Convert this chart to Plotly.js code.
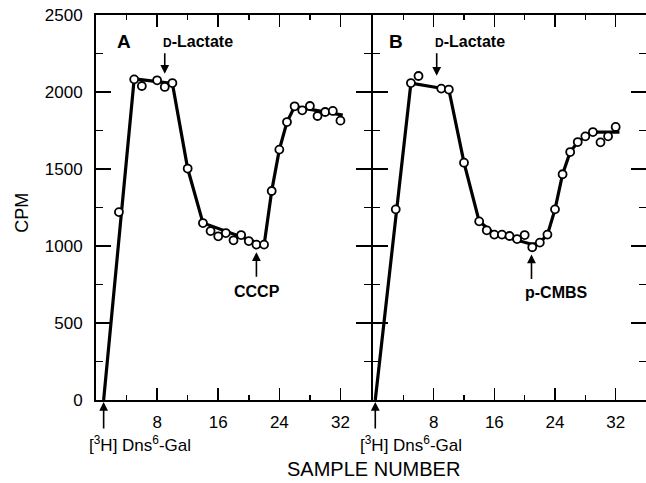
<!DOCTYPE html>
<html><head><meta charset="utf-8">
<script src="https://cdn.plot.ly/plotly-3.0.1.min.js"></script>
<style>html,body{margin:0;padding:0;background:#fff}</style>
</head><body>
<div id="chart" style="width:646px;height:483px"></div>
<script>
// Panel A (CCCP)
const sampleA = [3,5,6,8,9,10,12,14,15,16,17,18,19,20,21,22,23,24,25,26,27,28,29,30,31,32];
const cpmA = [1220,2082,2039,2076,2033,2058,1503,1149,1097,1063,1084,1037,1071,1032,1009,1009,1357,1626,1805,1907,1881,1909,1844,1870,1877,1814];
const fitSampleA = [1,5,10,12,14,22,23,24,25,26,32.3];
const fitCpmA = [0,2085,2055,1503,1150,1005,1357,1626,1805,1905,1850];
// Panel B (p-CMBS)
const sampleB = [3,5,6,9,10,12,14,15,16,17,18,19,20,21,22,23,24,25,26,27,28,29,30,31,32];
const cpmB = [1238,2058,2104,2022,2016,1541,1160,1102,1074,1074,1065,1045,1071,992,1022,1074,1238,1466,1610,1675,1712,1740,1673,1712,1773];
const fitSampleB = [0.3,5,10,12,14,16,21,22,23,24,25,26,27,28,29,32.5];
const fitCpmB = [0,2058,2016,1541,1160,1080,1010,1022,1074,1238,1466,1610,1675,1712,1740,1740];
// Axis ticks
const xTickVals = [8,16,24,32];
const xMinorVals = [4,12,20,28];
const xRange = [0,36];
const yRange = [0,2500];

const FONT = 'Liberation Sans, Arial, Helvetica, sans-serif';

function lineTrace(x,y,xa,ya){
  return {x:x,y:y,xaxis:xa,yaxis:ya,mode:'lines',line:{color:'#000',width:3.2},hoverinfo:'skip',showlegend:false};
}
function ptTrace(x,y,xa,ya){
  return {x:x,y:y,xaxis:xa,yaxis:ya,mode:'markers',marker:{symbol:'circle',size:8,color:'#fff',line:{color:'#000',width:1.8}},showlegend:false,cliponaxis:false};
}
const data = [
  lineTrace(fitSampleA,fitCpmA,'x','y'),
  ptTrace(sampleA,cpmA,'x','y'),
  lineTrace(fitSampleB,fitCpmB,'x2','y2'),
  ptTrace(sampleB,cpmB,'x2','y2')
];

function xax(domain, anchor){
  return {domain:domain, anchor:anchor, range:xRange, tickmode:'array', tickvals:xTickVals,
    ticks:'inside', ticklen:12, tickwidth:1.5, tickcolor:'#000',
    minor:{tickmode:'array', tickvals:xMinorVals, ticks:'inside', ticklen:5, tickwidth:1.5, tickcolor:'#000'},
    showline:true, linewidth:2, linecolor:'#000', mirror:'ticks', showgrid:false, zeroline:false,
    ticklabelstandoff:6, tickfont:{family:FONT,size:17,color:'#000'}, fixedrange:true};
}
function yax(anchor, labels){
  return {anchor:anchor, domain:[0,1], range:yRange, tickmode:'linear', tick0:0, dtick:500,
    ticks:'inside', ticklen:15, tickwidth:1.5, tickcolor:'#000',
    minor:{dtick:250, ticks:'inside', ticklen:7, tickwidth:1.5, tickcolor:'#000'},
    showline:true, linewidth:2, linecolor:'#000', mirror:'ticks', showgrid:false, zeroline:false,
    showticklabels:labels, ticklabelstandoff:8, tickfont:{family:FONT,size:17,color:'#000'}, fixedrange:true};
}

const lbl = {family:FONT,size:16,color:'#000',weight:'bold'};
const dlac = '<span style="font-size:12px">D</span>-Lactate';
function arrow(xref,yref,x,y,ay){
  return {xref:xref,yref:yref,x:x,y:y,ax:0,ay:ay,text:'',showarrow:true,arrowhead:2,arrowsize:1.1,arrowwidth:1.6,arrowcolor:'#000'};
}
function txt(xref,yref,x,y,t,font,extra){
  return Object.assign({xref:xref,yref:yref,x:x,y:y,text:t,showarrow:false,font:font,xanchor:'center',yanchor:'middle'},extra||{});
}
const annotations = [
  txt('x','y',3.7,2330,'A',{family:FONT,size:19,color:'#000',weight:'bold'}),
  txt('x2','y2',3.0,2330,'B',{family:FONT,size:19,color:'#000',weight:'bold'}),
  txt('x','y',13.3,2325,dlac,lbl),
  txt('x2','y2',12.8,2325,dlac,lbl),
  arrow('x','y',9,2118,-22),
  arrow('x2','y2',8.4,2105,-24),
  txt('x','y',21.1,703,'CCCP',lbl),
  arrow('x','y',21,960,26),
  txt('x2','y2',24.2,700,'p-CMBS',lbl),
  arrow('x2','y2',20.9,945,26),
  arrow('x','paper',1,-0.005,28),
  arrow('x2','paper',0.3,-0.005,28),
  txt('paper','paper',0.08,-0.113,'[<sup>3</sup>H] Dns<sup>6</sup>-Gal',{family:FONT,size:17,color:'#000'}),
  txt('paper','paper',0.572,-0.113,'[<sup>3</sup>H] Dns<sup>6</sup>-Gal',{family:FONT,size:17,color:'#000'}),
  txt('paper','paper',0.505,-0.18,'SAMPLE NUMBER',{family:FONT,size:20,color:'#000'}),
  txt('paper','paper',-0.135,0.486,'CPM',{family:FONT,size:18,color:'#000'},{textangle:-90})
];

const layout = {
  width:646, height:483,
  margin:{l:96,r:0,t:15,b:83},
  paper_bgcolor:'#fff', plot_bgcolor:'#fff',
  showlegend:false,
  xaxis:xax([0,0.5],'y'),
  yaxis:yax('x',true),
  xaxis2:xax([0.5+2/550,1],'y2'),
  yaxis2:yax('x2',false),
  annotations:annotations
};
Plotly.newPlot('chart', data, layout, {displayModeBar:false, staticPlot:true});
</script>
</body></html>
